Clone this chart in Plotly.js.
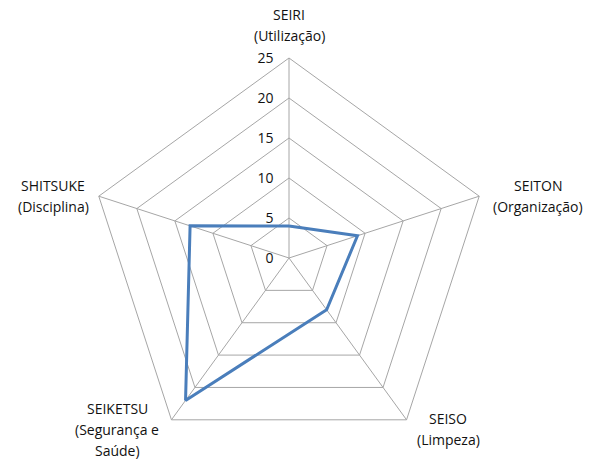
<!DOCTYPE html>
<html>
<head>
<meta charset="utf-8">
<script src="https://cdn.plot.ly/plotly-3.0.1.min.js"></script>
<style>
  html, body { margin: 0; padding: 0; background: #ffffff; }
  #chart { width: 591px; height: 459px; }
</style>
</head>
<body>
<div id="chart"></div>
<script>
// 5S evaluation: one score per sense
const categories = ['SEIRI', 'SEITON', 'SEISO', 'SEIKETSU', 'SHITSUKE'];
const subtitles = [
  ['(Utilização)'],
  ['(Organização)'],
  ['(Limpeza)'],
  ['(Segurança e', 'Saúde)'],
  ['(Disciplina)']
];
const scores = [4, 9, 8, 22, 13];
const radialTicks = [0, 5, 10, 15, 20, 25];

// close the polygon by repeating the first point
const theta = categories.concat([categories[0]]);
const r = scores.concat([scores[0]]);

const gridColor = '#a6a6a6';
const textFont = { family: 'Open Sans, Lato, sans-serif', size: 14, color: '#111111' };

// where each spoke's caption block sits (x centre, y of first line), in page pixels
const W = 591, H = 459;
const labelSpots = [
  { x: 289, y: 15 },
  { x: 538, y: 185 },
  { x: 448, y: 418 },
  { x: 117, y: 408 },
  { x: 53,  y: 185 }
];
const lineGap = 21;

const annotations = [];
categories.forEach(function (name, i) {
  const lines = [name].concat(subtitles[i]);
  lines.forEach(function (txt, k) {
    annotations.push({
      xref: 'paper', yref: 'paper',
      x: labelSpots[i].x / W,
      y: 1 - (labelSpots[i].y + k * lineGap) / H,
      xanchor: 'center', yanchor: 'middle',
      text: txt,
      showarrow: false,
      font: textFont
    });
  });
});

const trace = {
  type: 'scatterpolar',
  mode: 'lines',
  r: r,
  theta: theta,
  line: { color: '#4a7ebb', width: 3 },
  hoverinfo: 'r+theta'
};

const layout = {
  width: W,
  height: H,
  margin: { l: 0, r: 0, t: 0, b: 0 },
  paper_bgcolor: '#ffffff',
  showlegend: false,
  font: textFont,
  annotations: annotations,
  polar: {
    bgcolor: '#ffffff',
    gridshape: 'linear',
    domain: { x: [89 / W, 489 / W], y: [1 - 458 / H, 1 - 58 / H] },
    angularaxis: {
      direction: 'clockwise',
      rotation: 90,
      showline: true,
      linecolor: gridColor,
      linewidth: 1,
      gridcolor: gridColor,
      gridwidth: 1,
      ticks: '',
      showticklabels: false
    },
    radialaxis: {
      range: [0, 25],
      tickvals: radialTicks,
      ticktext: radialTicks.map(String),
      angle: 90,
      side: 'counterclockwise',
      tickangle: 90,
      showline: false,
      // invisible ticks keep the numbers clear of the vertical spoke
      ticks: 'outside',
      ticklen: 10,
      tickcolor: 'rgba(0,0,0,0)',
      gridcolor: gridColor,
      gridwidth: 1,
      tickfont: textFont
    }
  }
};

Plotly.newPlot('chart', [trace], layout, { displayModeBar: false, staticPlot: true });
</script>
</body>
</html>
